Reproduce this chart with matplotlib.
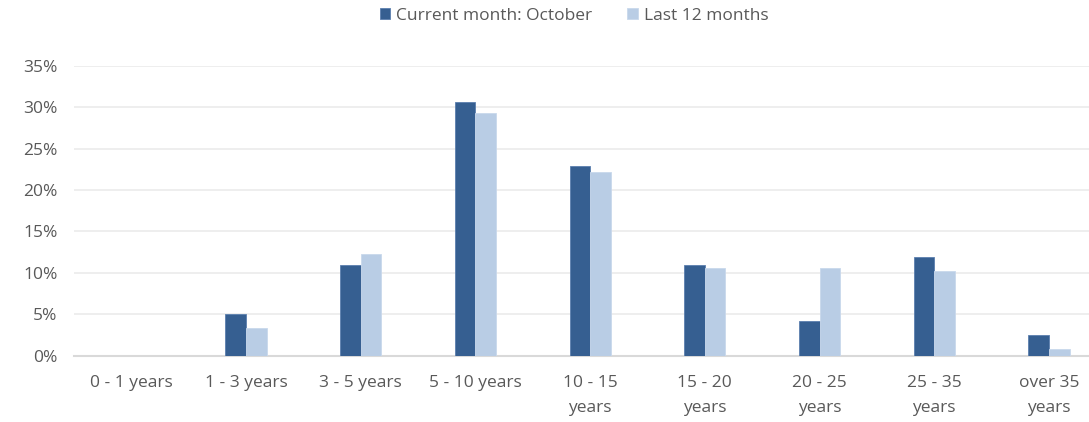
import matplotlib
matplotlib.use("Agg")
import matplotlib.pyplot as plt
import numpy as np
from matplotlib.ticker import FuncFormatter

categories = ["0 - 1 years", "1 - 3 years", "3 - 5 years", "5 - 10 years",
              "10 - 15\nyears", "15 - 20\nyears", "20 - 25\nyears",
              "25 - 35\nyears", "over 35\nyears"]
current = [0.0, 5.0, 11.0, 30.6, 22.9, 11.0, 4.2, 11.95, 2.5]
last12 = [0.0, 3.4, 12.3, 29.25, 22.2, 10.6, 10.55, 10.2, 0.8]
series_names = ["Current month: October", "Last 12 months"]

plt.rcParams['font.family'] = ['Open Sans', 'DejaVu Sans']
text_color = "#595959"
fs = 12.5

fig = plt.figure(figsize=(10.89, 4.22), dpi=100)
left = 74 / 1089
cat_w = 114.7 / 1089
ax = fig.add_axes([left, 0.1571, cat_w * 9, 0.8443 - 0.1571])

x = np.arange(len(categories))
bw = 0.18
ax.bar(x - bw / 2, current, bw, color="#365F91", edgecolor="#5B7FAE", linewidth=0.6,
       label=series_names[0], zorder=3)
ax.bar(x + bw / 2, last12, bw, color="#B9CDE5", edgecolor="#C9D8EC", linewidth=0.6,
       label=series_names[1], zorder=3)

ax.set_xlim(-0.5, len(categories) - 0.5)
ax.set_ylim(0, 35)
ax.set_yticks(np.arange(0, 36, 5))
ax.yaxis.set_major_formatter(FuncFormatter(lambda v, p: f"{v:.0f}%"))
ax.set_xticks(x)
ax.set_xticklabels(categories, linespacing=1.7)
ax.grid(axis="y", color="#EBEBEB", linewidth=1.2, zorder=0)
for s in ["top", "right", "left"]:
    ax.spines[s].set_visible(False)
ax.spines["bottom"].set_color("#D9D9D9")
ax.spines["bottom"].set_linewidth(1.5)
ax.tick_params(axis="both", length=0, colors=text_color, labelsize=fs)
ax.tick_params(axis="y", pad=12)
ax.tick_params(axis="x", pad=14)

leg = fig.legend(loc="center", bbox_to_anchor=(574 / 1089, 1 - 16 / 422), ncol=2,
                 frameon=False, fontsize=fs, handlelength=0.6, handleheight=0.6,
                 handletextpad=0.35, columnspacing=2.0)
for t in leg.get_texts():
    t.set_color(text_color)

fig.savefig("out.png", dpi=100)
